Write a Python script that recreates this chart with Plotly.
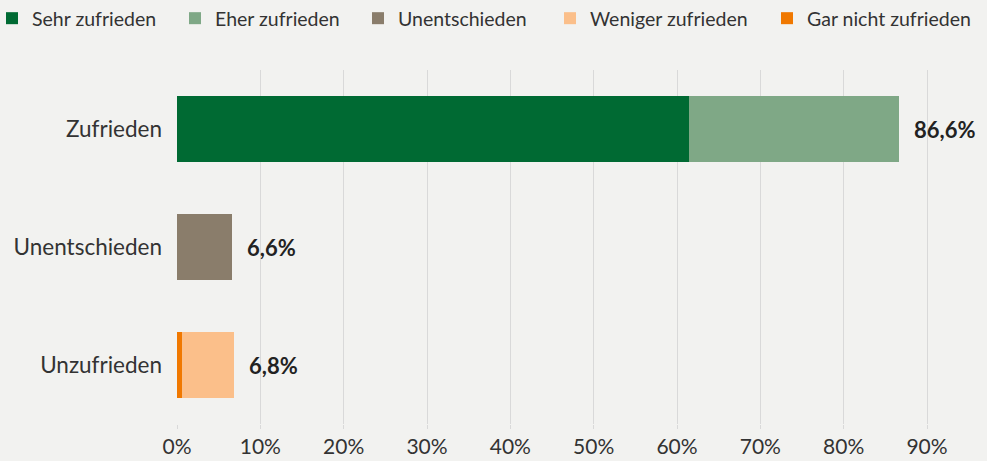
import plotly.graph_objects as go

categories = ["Zufrieden", "Unentschieden", "Unzufrieden"]
series_names = ["Sehr zufrieden", "Eher zufrieden", "Unentschieden", "Weniger zufrieden", "Gar nicht zufrieden"]
sehr_zufrieden = [61.4, 0, 0]
eher_zufrieden = [25.2, 0, 0]
unentschieden = [0, 6.6, 0]
weniger_zufrieden = [0, 0, 6.2]
gar_nicht_zufrieden = [0, 0, 0.6]
totals = [86.6, 6.6, 6.8]
total_labels = ["86,6%", "6,6%", "6,8%"]
x_ticks = [0, 10, 20, 30, 40, 50, 60, 70, 80, 90]
x_tick_labels = ["0%", "10%", "20%", "30%", "40%", "50%", "60%", "70%", "80%", "90%"]

colors = ["#006a33", "#7fa886", "#8a7d6b", "#fbbf8a", "#f07800"]
legend_widths = [138, 138, 147, 172, 165]
values = [sehr_zufrieden, eher_zufrieden, unentschieden, weniger_zufrieden, gar_nicht_zufrieden]
order = [0, 1, 2, 4, 3]

W, H = 987, 461
ML, MT, MB = 177, 70, 37
plot_w = W - ML
plot_h = H - MT - MB

font = "Lato, 'Noto Sans', sans-serif"
fig = go.Figure()
for i in order:
    fig.add_trace(go.Bar(
        y=categories, x=values[i], name=series_names[i], orientation="h",
        marker=dict(color=colors[i], line=dict(width=0)),
        legendrank=i, legendwidth=legend_widths[i], hoverinfo="x+name",
    ))

for cat, t, lab in zip(categories, totals, total_labels):
    fig.add_annotation(x=t, y=cat, text="<b>" + lab + "</b>", showarrow=False,
                       xanchor="left", xshift=13, font=dict(size=22, color="#222", family=font))

fig.update_layout(
    barmode="stack",
    bargap=0.44,
    width=W, height=H,
    paper_bgcolor="#f2f2f0", plot_bgcolor="#f2f2f0",
    margin=dict(l=ML, r=0, t=MT, b=MB, autoexpand=False),
    font=dict(family=font, size=22.5, color="#333"),
    legend=dict(orientation="h", xref="paper", yref="paper",
                x=(-8 - ML) / plot_w, y=1 + (MT + 1) / plot_h,
                xanchor="left", yanchor="top", traceorder="normal",
                font=dict(size=19.5, color="#333"), itemwidth=30, tracegroupgap=0,
                bgcolor="rgba(0,0,0,0)"),
    showlegend=True,
)
fig.update_xaxes(range=[0, 97.2], tickvals=x_ticks, ticktext=x_tick_labels, showgrid=True,
                 gridcolor="#d9d9d9", gridwidth=1, zeroline=False, ticks="outside",
                 ticklen=4, tickcolor="#d9d9d9", showline=False, fixedrange=True,
                 tickfont=dict(size=21))
fig.update_yaxes(categoryorder="array", categoryarray=categories[::-1], showgrid=False,
                 ticks="", ticklabelstandoff=14, showline=False, fixedrange=True)

fig.write_html("out.html", config={"displayModeBar": False},
               post_script="document.body.style.margin='0';document.body.style.overflow='hidden';")
